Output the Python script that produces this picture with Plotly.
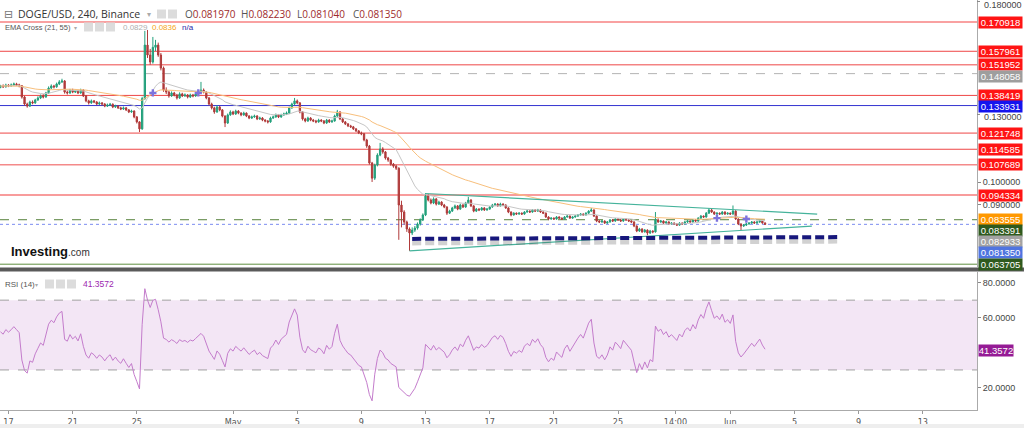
import pandas as pd
import plotly.graph_objects as go

# ------------------------------------------------------------------ data
first_open = 0.1420
closes = [
    0.1426, 0.1422, 0.1430, 0.1426, 0.1430, 0.1435, 0.1431, 0.1427, 0.1377, 0.1346, 0.1337, 0.1355,
    0.1351, 0.1364, 0.1373, 0.1382, 0.1377, 0.1395, 0.1417, 0.1426, 0.1422, 0.1435, 0.1444, 0.1448,
    0.1399, 0.1395, 0.1408, 0.1399, 0.1404, 0.1395, 0.1408, 0.1382, 0.1360, 0.1351, 0.1360, 0.1355,
    0.1346, 0.1351, 0.1346, 0.1337, 0.1342, 0.1345, 0.1333, 0.1337, 0.1329, 0.1324, 0.1329, 0.1320,
    0.1311, 0.1315, 0.1289, 0.1267, 0.1236, 0.1370, 0.1607, 0.1563, 0.1532, 0.1597, 0.1607, 0.1563,
    0.1505, 0.1408, 0.1399, 0.1382, 0.1395, 0.1386, 0.1373, 0.1391, 0.1382, 0.1386, 0.1377, 0.1386,
    0.1382, 0.1391, 0.1399, 0.1408, 0.1399, 0.1373, 0.1346, 0.1329, 0.1311, 0.1333, 0.1320, 0.1293,
    0.1262, 0.1298, 0.1311, 0.1302, 0.1315, 0.1306, 0.1298, 0.1306, 0.1293, 0.1284, 0.1289, 0.1293,
    0.1280, 0.1284, 0.1275, 0.1271, 0.1267, 0.1284, 0.1289, 0.1298, 0.1289, 0.1298, 0.1302, 0.1306,
    0.1329, 0.1346, 0.1360, 0.1351, 0.1311, 0.1280, 0.1271, 0.1284, 0.1275, 0.1271, 0.1267, 0.1275,
    0.1271, 0.1262, 0.1275, 0.1267, 0.1271, 0.1293, 0.1311, 0.1280, 0.1267, 0.1258, 0.1249, 0.1245,
    0.1236, 0.1227, 0.1218, 0.1214, 0.1187, 0.1160, 0.1085, 0.1018, 0.1076, 0.1120, 0.1147, 0.1134,
    0.1107, 0.1098, 0.1080, 0.1071, 0.1062, 0.0899, 0.0868, 0.0824, 0.0793, 0.0775, 0.0788, 0.0797,
    0.0815, 0.0833, 0.0855, 0.0939, 0.0921, 0.0908, 0.0926, 0.0903, 0.0912, 0.0899, 0.0890, 0.0863,
    0.0872, 0.0886, 0.0895, 0.0881, 0.0899, 0.0890, 0.0908, 0.0921, 0.0895, 0.0872, 0.0881, 0.0877,
    0.0886, 0.0877, 0.0881, 0.0890, 0.0899, 0.0903, 0.0895, 0.0903, 0.0899, 0.0886, 0.0868, 0.0855,
    0.0863, 0.0859, 0.0863, 0.0859, 0.0868, 0.0872, 0.0868, 0.0877, 0.0872, 0.0877, 0.0868, 0.0863,
    0.0846, 0.0837, 0.0841, 0.0837, 0.0846, 0.0841, 0.0837, 0.0846, 0.0850, 0.0841, 0.0846, 0.0850,
    0.0855, 0.0859, 0.0855, 0.0863, 0.0872, 0.0877, 0.0850, 0.0828, 0.0824, 0.0828, 0.0819, 0.0824,
    0.0833, 0.0828, 0.0837, 0.0833, 0.0828, 0.0837, 0.0833, 0.0828, 0.0824, 0.0806, 0.0784, 0.0793,
    0.0780, 0.0788, 0.0775, 0.0784, 0.0780, 0.0833, 0.0824, 0.0828, 0.0819, 0.0824, 0.0815, 0.0819,
    0.0815, 0.0810, 0.0819, 0.0815, 0.0824, 0.0828, 0.0824, 0.0833, 0.0828, 0.0841, 0.0850, 0.0846,
    0.0863, 0.0877, 0.0868, 0.0859, 0.0863, 0.0859, 0.0868, 0.0859, 0.0863, 0.0859, 0.0872, 0.0837,
    0.0815, 0.0806, 0.0810, 0.0815, 0.0819, 0.0824, 0.0819, 0.0824, 0.0828, 0.08197, 0.08135,
]
highs = [
    0.1431, 0.1433, 0.1436, 0.1434, 0.1437, 0.1441, 0.1440, 0.1436, 0.1430, 0.1382, 0.1352, 0.1361,
    0.1362, 0.1369, 0.1380, 0.1388, 0.1390, 0.1400, 0.1424, 0.1433, 0.1431, 0.1441, 0.1452, 0.1458,
    0.1452, 0.1406, 0.1413, 0.1414, 0.1410, 0.1409, 0.1414, 0.1411, 0.1386, 0.1365, 0.1366, 0.1364,
    0.1359, 0.1357, 0.1355, 0.1350, 0.1348, 0.1351, 0.1349, 0.1343, 0.1341, 0.1334, 0.1335, 0.1333,
    0.1324, 0.1321, 0.1318, 0.1293, 0.1270, 0.1378, 0.1670, 0.1674, 0.1590, 0.1643, 0.1630, 0.1618,
    0.1572, 0.1512, 0.1420, 0.1405, 0.1402, 0.1400, 0.1391, 0.1398, 0.1396, 0.1393, 0.1390, 0.1392,
    0.1391, 0.1397, 0.1406, 0.1444, 0.1415, 0.1403, 0.1377, 0.1352, 0.1334, 0.1340, 0.1338, 0.1324,
    0.1296, 0.1304, 0.1318, 0.1316, 0.1321, 0.1319, 0.1310, 0.1312, 0.1309, 0.1297, 0.1295, 0.1299,
    0.1297, 0.1290, 0.1288, 0.1279, 0.1275, 0.1290, 0.1295, 0.1304, 0.1302, 0.1303, 0.1308, 0.1313,
    0.1335, 0.1352, 0.1373, 0.1366, 0.1355, 0.1315, 0.1285, 0.1290, 0.1288, 0.1280, 0.1276, 0.1281,
    0.1279, 0.1275, 0.1280, 0.1279, 0.1277, 0.1299, 0.1320, 0.1314, 0.1284, 0.1271, 0.1262, 0.1254,
    0.1249, 0.1240, 0.1231, 0.1224, 0.1218, 0.1192, 0.1165, 0.1090, 0.1082, 0.1128, 0.1174, 0.1155,
    0.1138, 0.1112, 0.1102, 0.1085, 0.1077, 0.1066, 0.0918, 0.0876, 0.0830, 0.0800, 0.0800, 0.0806,
    0.0822, 0.0840, 0.0862, 0.0952, 0.0948, 0.0928, 0.0933, 0.0930, 0.0918, 0.0916, 0.0904, 0.0894,
    0.0878, 0.0891, 0.0901, 0.0899, 0.0905, 0.0903, 0.0913, 0.0935, 0.0925, 0.0898, 0.0886, 0.0885,
    0.0890, 0.0889, 0.0886, 0.0894, 0.0904, 0.0908, 0.0907, 0.0909, 0.0907, 0.0902, 0.0889, 0.0871,
    0.0867, 0.0866, 0.0867, 0.0866, 0.0872, 0.0877, 0.0876, 0.0881, 0.0880, 0.0882, 0.0880, 0.0871,
    0.0866, 0.0849, 0.0845, 0.0844, 0.0850, 0.0849, 0.0844, 0.0850, 0.0854, 0.0853, 0.0849, 0.0854,
    0.0859, 0.0863, 0.0862, 0.0867, 0.0876, 0.0886, 0.0880, 0.0853, 0.0832, 0.0832, 0.0831, 0.0828,
    0.0837, 0.0836, 0.0841, 0.0840, 0.0836, 0.0841, 0.0840, 0.0836, 0.0831, 0.0827, 0.0809, 0.0798,
    0.0796, 0.0793, 0.0791, 0.0789, 0.0787, 0.0868, 0.0840, 0.0833, 0.0831, 0.0828, 0.0827, 0.0823,
    0.0822, 0.0818, 0.0823, 0.0822, 0.0828, 0.0832, 0.0831, 0.0837, 0.0836, 0.0845, 0.0855, 0.0853,
    0.0868, 0.0885, 0.0882, 0.0871, 0.0867, 0.0866, 0.0872, 0.0871, 0.0867, 0.0866, 0.0897, 0.0876,
    0.0840, 0.0818, 0.0815, 0.0819, 0.0823, 0.0828, 0.0827, 0.0828, 0.0832, 0.0831, 0.08223,
]
lows = [
    0.1416, 0.1418, 0.1419, 0.1421, 0.1423, 0.1427, 0.1426, 0.1420, 0.1370, 0.1338, 0.1330, 0.1333,
    0.1345, 0.1347, 0.1360, 0.1368, 0.1371, 0.1374, 0.1391, 0.1412, 0.1415, 0.1418, 0.1430, 0.1439,
    0.1392, 0.1388, 0.1391, 0.1394, 0.1395, 0.1390, 0.1392, 0.1377, 0.1354, 0.1344, 0.1347, 0.1350,
    0.1341, 0.1342, 0.1340, 0.1332, 0.1333, 0.1338, 0.1328, 0.1329, 0.1324, 0.1319, 0.1320, 0.1315,
    0.1306, 0.1307, 0.1283, 0.1260, 0.1222, 0.1232, 0.1365, 0.1550, 0.1520, 0.1525, 0.1580, 0.1555,
    0.1495, 0.1400, 0.1390, 0.1374, 0.1378, 0.1380, 0.1366, 0.1369, 0.1377, 0.1378, 0.1371, 0.1373,
    0.1376, 0.1378, 0.1387, 0.1395, 0.1393, 0.1367, 0.1340, 0.1322, 0.1303, 0.1307, 0.1314, 0.1287,
    0.1244, 0.1258, 0.1294, 0.1297, 0.1298, 0.1301, 0.1292, 0.1294, 0.1288, 0.1279, 0.1280, 0.1285,
    0.1275, 0.1276, 0.1270, 0.1265, 0.1260, 0.1263, 0.1280, 0.1285, 0.1284, 0.1285, 0.1294, 0.1298,
    0.1302, 0.1325, 0.1342, 0.1345, 0.1305, 0.1273, 0.1265, 0.1267, 0.1270, 0.1266, 0.1261, 0.1263,
    0.1266, 0.1257, 0.1258, 0.1262, 0.1263, 0.1268, 0.1289, 0.1275, 0.1262, 0.1253, 0.1244, 0.1240,
    0.1231, 0.1222, 0.1213, 0.1208, 0.1181, 0.1152, 0.1078, 0.1001, 0.1010, 0.1070, 0.1115, 0.1126,
    0.1100, 0.1090, 0.1073, 0.1064, 0.1054, 0.0745, 0.0800, 0.0812, 0.0780, 0.0696, 0.0766, 0.0780,
    0.0790, 0.0808, 0.0828, 0.0850, 0.0915, 0.0902, 0.0903, 0.0897, 0.0899, 0.0894, 0.0885, 0.0855,
    0.0859, 0.0868, 0.0882, 0.0876, 0.0878, 0.0886, 0.0887, 0.0904, 0.0890, 0.0867, 0.0868, 0.0872,
    0.0874, 0.0873, 0.0874, 0.0878, 0.0887, 0.0895, 0.0891, 0.0892, 0.0895, 0.0882, 0.0863, 0.0849,
    0.0852, 0.0855, 0.0856, 0.0855, 0.0856, 0.0865, 0.0864, 0.0865, 0.0868, 0.0869, 0.0864, 0.0859,
    0.0842, 0.0832, 0.0834, 0.0833, 0.0834, 0.0838, 0.0833, 0.0835, 0.0843, 0.0838, 0.0838, 0.0843,
    0.0847, 0.0852, 0.0851, 0.0852, 0.0860, 0.0868, 0.0846, 0.0823, 0.0819, 0.0820, 0.0815, 0.0816,
    0.0821, 0.0824, 0.0825, 0.0829, 0.0824, 0.0825, 0.0829, 0.0824, 0.0819, 0.0801, 0.0779, 0.0780,
    0.0776, 0.0777, 0.0765, 0.0771, 0.0774, 0.0777, 0.0820, 0.0820, 0.0815, 0.0816, 0.0811, 0.0812,
    0.0811, 0.0806, 0.0807, 0.0811, 0.0812, 0.0820, 0.0820, 0.0821, 0.0824, 0.0825, 0.0838, 0.0842,
    0.0843, 0.0860, 0.0864, 0.0855, 0.0856, 0.0855, 0.0856, 0.0855, 0.0856, 0.0855, 0.0856, 0.0833,
    0.0810, 0.0788, 0.0802, 0.0806, 0.0812, 0.0816, 0.0815, 0.0816, 0.0820, 0.0816, 0.08104,
]
bar_start = "2022-04-16 12:00"   # 240-minute bars

ema_fast_span = 21
ema_slow_span = 55
rsi_period = 14
rsi_seed = 0.0006

level_values = [0.170918, 0.157961, 0.151952, 0.148058, 0.138419, 0.133931,
                0.121748, 0.114585, 0.107689, 0.094334, 0.083391, 0.081350, 0.063705]
level_colors = ["#f78282", "#ee4646", "#ee4646", "#b3b3b3", "#ee4646", "#3434d0",
                "#ee4646", "#ee4646", "#f48a8a", "#f89c9c", "#55803a", "#7b8cf0", "#5f8f3f"]
level_dash = ["solid", "solid", "solid", "dash", "solid", "solid", "solid", "solid",
              "solid", "solid", "dash", "dot", "solid"]
level_width = [1.5, 1, 1, 1, 1, 1, 1, 1, 1.5, 2, 1, 1, 1]

label_values = [0.170918, 0.157961, 0.151952, 0.148058, 0.138419, 0.133931,
                0.121748, 0.114585, 0.107689, 0.094334, 0.083555, 0.083391,
                0.082933, 0.081350, 0.063705]
label_colors = ["#ff1414", "#ff1414", "#ff1414", "#9e9e9e", "#ff1414", "#1414ee",
                "#ff1414", "#ff1414", "#ff1414", "#ff1414", "#ff9800", "#2f5a1e",
                "#a3a3a3", "#4f74e0", "#2f5a1e"]

tri_upper_t = ["2022-05-13 00:00", "2022-06-06 10:00"]
tri_upper_p = [0.0950, 0.0859]
tri_lower_t = ["2022-05-12 00:00", "2022-06-06 02:00"]
tri_lower_p = [0.0696, 0.0806]
support_t = ["2022-05-12 04:00", "2022-06-07 20:00"]
support_p = [0.0749, 0.0757]
cross_t = ["2022-04-26 00:00", "2022-04-28 20:00", "2022-05-31 04:00", "2022-06-02 00:00"]
cross_p = [0.1395, 0.1395, 0.0841, 0.0837]

rsi_last = 41.3572
rsi_levels = [70, 30]

tick_dates = ["2022-04-17", "2022-04-21", "2022-04-25", "2022-05-01", "2022-05-05",
              "2022-05-09", "2022-05-13", "2022-05-17", "2022-05-21", "2022-05-25",
              "2022-05-28 14:00", "2022-06-01", "2022-06-05", "2022-06-09", "2022-06-13"]
tick_text = ["17", "21", "25", "May", "5", "9", "13", "17", "21", "25", "14:00",
             "Jun", "5", "9", "13"]
price_ticks = [0.09, 0.10]           # plain axis labels
price_nudged_ticks = [0.13, 0.18]    # labels nudged clear of neighbours, like the original
price_nudge_px = [3, 3.5]
rsi_ticks = [20, 60, 80]

# ------------------------------------------------------------------ derived
times = pd.date_range(bar_start, periods=len(closes), freq="4h")
opens = [first_open] + closes[:-1]
cs = pd.Series(closes)
ema_fast = cs.ewm(span=ema_fast_span, adjust=False).mean()
ema_slow = cs.ewm(span=ema_slow_span, adjust=False).mean()

rsi = []
ag = al = rsi_seed
prev = first_open
for c in closes:
    d = c - prev
    ag = (ag * (rsi_period - 1) + max(d, 0)) / rsi_period
    al = (al * (rsi_period - 1) + max(-d, 0)) / rsi_period
    rsi.append(100 * ag / (ag + al))
    prev = c

# ------------------------------------------------------------------ layout geometry
W, H = 1024, 428
PLOT_W, PLOT_H = 977, 410
PRICE_BOTTOM_PX = 267
RSI_TOP_PX = 272
price_range = [0.062463, 0.180657]
rsi_range = [7.05, 86.13]
x_range = ["2022-04-16 11:17", "2022-06-16 09:07"]

UI = "Open Sans, Liberation Sans, sans-serif"
AX = "Liberation Sans, Arial, sans-serif"
NARROW = "Liberation Sans Narrow, DejaVu Sans Condensed, Arial Narrow, sans-serif"
UP, DN = "#23a07c", "#b03a3a"


def px(x):
    return x / PLOT_W


def py(y):
    return 1 - y / PLOT_H


fig = go.Figure()
fig.add_trace(go.Candlestick(
    x=times, open=opens, high=highs, low=lows, close=closes, xaxis="x", yaxis="y",
    increasing=dict(line=dict(color=UP, width=1), fillcolor=UP),
    decreasing=dict(line=dict(color=DN, width=1), fillcolor=DN),
    whiskerwidth=0, showlegend=False, hoverinfo="skip"))
fig.add_trace(go.Scatter(x=times, y=ema_fast, mode="lines", xaxis="x", yaxis="y",
                         line=dict(color="#c6c6c6", width=1), hoverinfo="skip"))
fig.add_trace(go.Scatter(x=times, y=ema_slow, mode="lines", xaxis="x", yaxis="y",
                         line=dict(color="#f8bf7c", width=1), hoverinfo="skip"))
for tt, pp in ((tri_upper_t, tri_upper_p), (tri_lower_t, tri_lower_p)):
    fig.add_trace(go.Scatter(x=tt, y=pp, mode="lines", xaxis="x", yaxis="y",
                             line=dict(color="#45b39b", width=1.2), hoverinfo="skip"))
shadow_off = 4 / (PRICE_BOTTOM_PX / (price_range[1] - price_range[0]))
fig.add_trace(go.Scatter(x=support_t, y=[p - shadow_off for p in support_p], mode="lines",
                         xaxis="x", yaxis="y", hoverinfo="skip",
                         line=dict(color="rgba(90,90,90,0.28)", width=5, dash="9px,4px")))
fig.add_trace(go.Scatter(x=support_t, y=support_p, mode="lines", xaxis="x", yaxis="y",
                         hoverinfo="skip",
                         line=dict(color="#17177c", width=4, dash="9px,4px")))
fig.add_trace(go.Scatter(x=cross_t, y=cross_p, mode="markers", xaxis="x", yaxis="y",
                         hoverinfo="skip",
                         marker=dict(symbol="cross", size=6, color="#7d73dd")))
fig.add_trace(go.Scatter(x=times, y=rsi, mode="lines", xaxis="x2", yaxis="y2",
                         line=dict(color="#c47ccc", width=1), hoverinfo="skip"))

shapes = []
for v, c, d, w in zip(level_values, level_colors, level_dash, level_width):
    shapes.append(dict(type="line", xref="paper", yref="y", x0=0, x1=1, y0=v, y1=v,
                       line=dict(color=c, width=w, dash=d), layer="below"))
shapes.append(dict(type="rect", xref="paper", yref="y2", x0=0, x1=1,
                   y0=rsi_levels[1], y1=rsi_levels[0], fillcolor="#f3e6f5",
                   line=dict(width=0), layer="below"))
for v in rsi_levels:
    shapes.append(dict(type="line", xref="paper", yref="y2", x0=0, x1=1, y0=v, y1=v,
                       line=dict(color="#a0a0a0", width=1, dash="dash"), layer="below"))
shapes.append(dict(type="rect", xref="paper", yref="paper", x0=0, x1=W / PLOT_W,
                   y0=py(271.5), y1=py(267.5), fillcolor="#5a5a5a", line=dict(width=0)))
shapes.append(dict(type="rect", xref="paper", yref="paper", x0=0, x1=W / PLOT_W,
                   y0=py(428), y1=py(424), fillcolor="#eeeeee", line=dict(width=0)))


def icon_boxes(x_list, ycen):
    for x in x_list:
        shapes.append(dict(type="rect", xref="paper", yref="paper",
                           x0=px(x), x1=px(x + 9), y0=py(ycen + 4.5), y1=py(ycen - 4.5),
                           fillcolor="#dcdcdc", line=dict(width=0)))


icon_boxes([157, 168], 14)
icon_boxes([84, 95, 106], 27)
icon_boxes([45, 56, 67], 284)

annotations = []


def txt(x, y, text, size, color, family=UI):
    annotations.append(dict(xref="paper", yref="paper", x=px(x), y=py(y), xanchor="left",
                            yanchor="middle", text=text, showarrow=False,
                            font=dict(family=family, size=size, color=color)))


txt(2, 14, "⊟", 11, "#777", "DejaVu Sans")
txt(16, 14, "DOGE/USD, 240, Binance", 10.5, "#333")
txt(145, 14, "▾", 8, "#aaa", "DejaVu Sans")
ohlc = [("O", opens[-1]), ("H", highs[-1]), ("L", lows[-1]), ("C", closes[-1])]
for k, (lab, val) in enumerate(ohlc):
    txt(183 + k * 56, 14, f"{lab}<span style='color:#9e2a2b'>{val:.6f}</span>", 10, "#555")
txt(3, 27, "EMA Cross (21, 55)", 7.5, "#555", AX)
txt(72, 27, "▾", 6, "#aaa", "DejaVu Sans")
txt(121, 27, f"{label_values[12]:.4f}", 8, "#b0b0b0", AX)
txt(150, 27, f"{label_values[10]:.4f}", 8, "#f5a623", AX)
txt(180, 27, "n/a", 8, "#2a2aa8", AX)
txt(3, 284, "RSI (14)", 8, "#555", AX)
txt(33, 284, "▾", 6, "#aaa", "DejaVu Sans")
txt(81, 284, f"{rsi_last:.4f}", 8.5, "#9c27b0", AX)
txt(9, 251, "<b>Investing</b><span style='font-size:10px;color:#333'>.com</span>",
    13, "#111", AX)

# nudged price-axis labels with their tick marks
for v, nudge in zip(price_nudged_ticks, price_nudge_px):
    shapes.append(dict(type="line", xref="paper", yref="y", x0=1, x1=px(PLOT_W + 3),
                       y0=v, y1=v, line=dict(color="#888", width=1)))
    annotations.append(dict(xref="paper", yref="y", x=1, y=v, xanchor="left",
                            yanchor="middle", xshift=5, yshift=-nudge, text=f"{v:.6f}",
                            showarrow=False, font=dict(family=AX, size=9, color="#444")))

px_per_unit = PRICE_BOTTOM_PX / (price_range[1] - price_range[0])
order = sorted(range(len(label_values)), key=lambda k: -label_values[k])
last = -1e9
shift = {}
for k in order:
    pos = (price_range[1] - label_values[k]) * px_per_unit
    new = max(pos, last + 11.2)
    shift[k] = -(new - pos)
    last = new
for k, (v, c) in enumerate(zip(label_values, label_colors)):
    annotations.append(dict(xref="paper", yref="y", x=1, y=v, xanchor="left",
                            yanchor="middle", xshift=1, yshift=shift[k],
                            text=f"{v:.6f}", showarrow=False, bgcolor=c, borderpad=0,
                            width=43, height=11, align="center", valign="middle",
                            font=dict(family=AX, size=9.5, color="white")))
annotations.append(dict(xref="paper", yref="y2", x=1, y=rsi_last, xanchor="left",
                        yanchor="middle", xshift=1, text=f"{rsi_last:.4f}",
                        showarrow=False, bgcolor="#951b95", borderpad=0, width=34,
                        height=11, align="center", valign="middle",
                        font=dict(family=AX, size=9.5, color="white")))

fig.update_layout(
    width=W, height=H,
    margin=dict(l=0, r=W - PLOT_W, t=0, b=H - PLOT_H),
    paper_bgcolor="white", plot_bgcolor="white",
    showlegend=False, hovermode=False,
    xaxis=dict(domain=[0, 1], range=x_range, type="date", anchor="y",
               showticklabels=False, showgrid=False, zeroline=False, showline=False,
               ticks="", rangeslider=dict(visible=False)),
    xaxis2=dict(domain=[0, 1], range=x_range, type="date", anchor="y2",
                tickvals=tick_dates, ticktext=tick_text, ticks="outside", ticklen=3,
                tickcolor="#999", showline=True, linecolor="#aaa", showgrid=False,
                zeroline=False, tickfont=dict(family=NARROW, size=9, color="#555")),
    yaxis=dict(domain=[1 - PRICE_BOTTOM_PX / PLOT_H, 1], range=price_range, side="right",
               anchor="x", tickvals=price_ticks, tickformat=".6f", ticks="outside",
               ticklen=3, tickcolor="#888", showline=True, linecolor="#aaa",
               showgrid=False, zeroline=False,
               tickfont=dict(family=AX, size=9, color="#444")),
    yaxis2=dict(domain=[0, 1 - RSI_TOP_PX / PLOT_H], range=rsi_range, side="right",
                anchor="x2", tickvals=rsi_ticks, tickformat=".4f", ticks="outside",
                ticklen=3, tickcolor="#888", showline=True, linecolor="#aaa",
                showgrid=False, zeroline=False,
                tickfont=dict(family=AX, size=9, color="#444")),
    shapes=shapes, annotations=annotations,
)

fig.write_html("out.html", config={"displayModeBar": False})
